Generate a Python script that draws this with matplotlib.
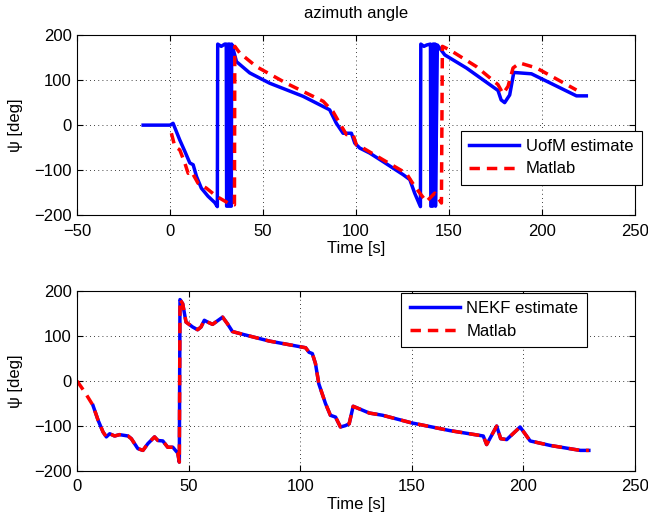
import matplotlib
matplotlib.use("Agg")
import matplotlib.pyplot as plt

# top panel: azimuth, UofM estimate vs Matlab
uofm_t = [-14.5, 0, 1.6, 5.2, 7.9, 10.6, 12.4, 14.2, 16.8, 20.4, 24, 25.4, 25.6, 27.5, 29.4,
          30.2, 30.4, 31.1, 31.3, 32.0, 32.2, 32.9, 33.1, 33.5, 35.7, 42.8, 53.6, 71.5, 85.8,
          89.4, 93, 97.5, 99.3, 102, 107.3, 114.5, 125.3, 128.9, 131.5, 134.6, 134.8, 136.5,
          138, 140.0, 140.2, 141.2, 141.4, 142.5, 142.7, 143.7, 147.7, 159.3, 176.3, 178,
          179.9, 182.6, 184.8, 194.3, 218.5, 223.8]
uofm_psi = [0, 0, 4, -33, -58, -84, -88, -114, -140, -158, -172, -181, 180, 175, 180,
            180, -180, -180, 180, 180, -180, -180, 180, 175, 141, 116, 93, 64, 34,
            4, -18, -18, -40, -51, -62, -81, -110, -121, -151, -181, 180, 175,
            178, 180, -180, -180, 180, 180, -180, 178, 156, 127, 77, 56,
            50, 67, 117, 114, 65, 65]
matlab1_t = [0.7, 2.5, 5.2, 7.9, 9.7, 11.5, 15, 19.5, 24.9, 31.2, 34.6, 34.8, 37.5, 46.4,
             62.5, 82.3, 87.6, 91.2, 94.8, 98.4, 100.2, 103.8, 114.5, 127, 131.5, 137.8,
             142.3, 145.9, 146.4, 150.4, 164.7, 176.3, 179, 181.7, 184.4, 188, 197, 218.5]
matlab1_psi = [-18, -47, -55, -84, -107, -103, -129, -140, -158, -173, -177, 175, 160, 130,
               93, 53, 30, 4, -21, -21, -44, -51, -77, -107, -136, -170,
               -151, -173, 175, 167, 130, 90, 70, 86, 127, 138, 127, 78]

# bottom panel: NEKF estimate vs Matlab
nekf_t = [7.1, 9.4, 11.6, 13.1, 14.6, 16.8, 19, 22.8, 24.3, 27.2, 29.5, 31.7, 34.7, 36.2,
          38.4, 40.6, 42.9, 45.1, 45.8, 46.1, 47.3, 48.8, 51.8, 54, 55.5, 57, 58.5, 60.7,
          65.2, 67.4, 69.6, 74.1, 86, 102.4, 103.9, 105.4, 106.8, 108.3, 111.3, 113.5,
          115.8, 118, 120.2, 121.9, 123.7, 130.9, 136.9, 150, 167, 182, 183.5, 188, 189.8,
          192.5, 198.5, 203, 212, 225.5, 229.3]
nekf_psi = [-54, -87, -113, -124, -117, -122, -119, -122, -128, -150, -154, -139, -124, -132,
            -133, -147, -147, -160, -180, 181, 172, 131, 120, 114, 120, 135, 131, 126,
            142, 127, 110, 104, 89, 74, 64, 61, 39, -6, -50, -76,
            -80, -102, -99, -95, -56, -71, -76, -93, -110, -122, -141, -100, -128,
            -130, -102, -133, -143, -154, -154]
matlab2_t = [0, 3.5] + nekf_t
matlab2_psi = [0, -25] + nekf_psi

plt.rcParams["font.family"] = ["Liberation Sans", "DejaVu Sans"]
plt.rcParams["font.size"] = 12

fig = plt.figure(figsize=(6.48, 5.16), dpi=100)
ax1 = fig.add_axes([0.119, 0.583, 0.861, 0.349])
ax2 = fig.add_axes([0.119, 0.087, 0.861, 0.349])


def style(ax, xlim):
    ax.set_xlim(*xlim)
    ax.set_ylim(-200, 200)
    ax.set_yticks(range(-200, 201, 100))
    ax.set_xticks(range(xlim[0], xlim[1] + 1, 50))
    ax.grid(True, color="k", linestyle=(0, (1, 4)), linewidth=0.6)
    ax.tick_params(direction="in", top=True, right=True, length=4)
    ax.tick_params(axis="x", pad=6)
    ax.tick_params(axis="y", pad=4)
    ax.set_xlabel("Time [s]", labelpad=2)
    ax.set_ylabel("ψ [deg]", labelpad=8)
    for s in ax.spines.values():
        s.set_linewidth(0.8)


def legend(ax, anchor):
    leg = ax.legend(loc="upper left", bbox_to_anchor=anchor, fontsize=12,
                    fancybox=False, edgecolor="k", framealpha=1, handlelength=3.0,
                    borderaxespad=0, borderpad=0.5, labelspacing=0.45, handletextpad=0.4)
    leg.get_frame().set_linewidth(0.8)


ax1.plot(uofm_t, uofm_psi, color="#0000ff", lw=2.5, label="UofM estimate")
ax1.plot(matlab1_t, matlab1_psi, color="#ff0000", lw=2.5, ls=(0, (3, 2)), label="Matlab")
style(ax1, (-50, 250))
ax1.set_title("azimuth angle", fontsize=12, pad=12)
legend(ax1, (0.688, 0.47))

ax2.plot(nekf_t, nekf_psi, color="#0000ff", lw=2.5, label="NEKF estimate")
ax2.plot(matlab2_t, matlab2_psi, color="#ff0000", lw=2.5, ls=(0, (3, 2)), label="Matlab")
style(ax2, (0, 250))
legend(ax2, (0.581, 0.99))

fig.savefig("out.png", dpi=100)
